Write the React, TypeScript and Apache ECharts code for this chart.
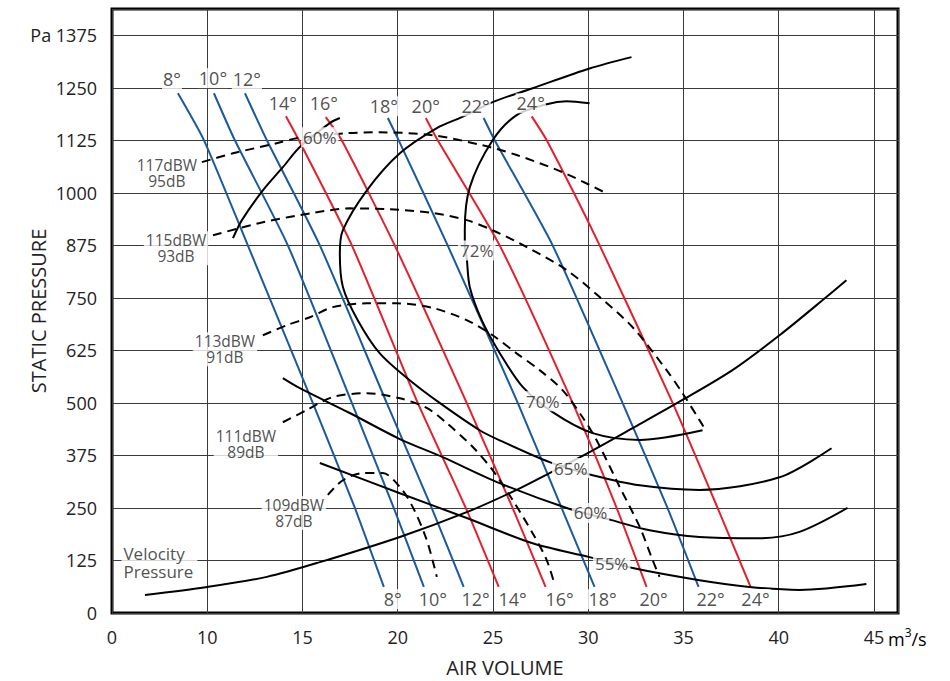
import { useEffect, useRef } from 'react';
import * as echarts from 'echarts';

// ---------- axes ----------
const X_MIN = 5; // first grid line, labelled "0"
const X_MAX = 46.26;
const X_STEP = 5;
const Y_MIN = 0;
const Y_MAX = 1437.5;
const Y_STEP = 125;
const X_LAST_LABEL = 45;
const Y_TOP_LABEL = 1375;

// ---------- blade angle lines ----------
const bladeAngles = [8, 10, 12, 14, 16, 18, 20, 22, 24];
const redAngles = [14, 16, 20, 24];
const blade8 = [[8.46, 1237], [9.83, 1125], [12.13, 875], [15.54, 500], [17.75, 250], [19.27, 62]];
const blade10 = [[10.35, 1237], [11.45, 1125], [14.23, 875], [17.59, 500], [19.79, 250], [21.37, 62]];
const blade12 = [[11.98, 1237], [13.13, 1125], [15.91, 875], [19.42, 500], [21.78, 250], [23.46, 62]];
const blade14 = [[14.13, 1182], [14.81, 1125], [17.59, 875], [21.05, 500], [23.57, 250], [25.3, 62]];
const blade16 = [[16.22, 1180], [17.06, 1125], [19.84, 875], [23.62, 500], [26.03, 250], [27.76, 62]];
const blade18 = [[19.48, 1178], [20.05, 1125], [22.62, 875], [26.3, 500], [28.6, 250], [30.33, 62]];
const blade20 = [[21.47, 1178], [22.1, 1125], [25.35, 875], [29.18, 500], [31.49, 250], [33.06, 62]];
const blade22 = [[24.51, 1178], [25.09, 1125], [28.13, 875], [31.8, 500], [34.16, 250], [35.79, 62]];
const blade24 = [[27.03, 1182], [27.82, 1125], [30.6, 875], [34.43, 500], [36.79, 250], [38.52, 62]];
const bladeCurves = [blade8, blade10, blade12, blade14, blade16, blade18, blade20, blade22, blade24];
const bladeTopLabelAt = [[8.15, 1270], [10.3, 1273], [12.08, 1270], [13.97, 1213], [16.12, 1213], [19.27, 1206], [21.47, 1206], [24.09, 1206], [26.98, 1213]];
const bladeBottomLabelX = [19.74, 21.84, 24.09, 26.03, 28.5, 30.75, 33.43, 36.42, 38.78];
const bladeBottomLabelY = 33;

// ---------- efficiency curves ----------
const eff60Upper = [[11.35, 892], [11.82, 935], [12.92, 1006], [13.97, 1061], [14.86, 1109], [16.43, 1166], [16.96, 1178]];
const eff60Lower = [[13.97, 559], [14.86, 535], [17.48, 476], [20.11, 414], [22.36, 371], [25.35, 309], [28.87, 250], [31.23, 221], [33.22, 197], [35.84, 181], [38.99, 178], [41.09, 193], [43.61, 250]];
const eff65 = [[32.27, 1323], [30.07, 1296], [27.08, 1249], [24.98, 1216], [23.36, 1180], [22.05, 1154], [20.11, 1094], [18.38, 1006], [17.12, 911], [16.96, 856], [17.12, 776], [17.9, 697], [19.06, 618], [20.63, 554], [22.2, 500], [24.3, 435], [25.35, 411], [27.97, 359], [30.23, 328], [32.7, 304], [35.84, 293], [40.04, 323], [42.77, 392]];
const eff72to70 = [[30.07, 1213], [28.87, 1218], [27.82, 1211], [26.24, 1185], [24.98, 1125], [23.78, 1013], [23.52, 911], [23.52, 878], [23.62, 845], [23.78, 776], [24.41, 697], [25.35, 619], [26.56, 538], [28.13, 478], [30.23, 428], [32.7, 412], [36.0, 435]];
const eff55 = [[15.91, 357], [20.11, 285], [23.62, 226], [27.08, 166], [30.07, 133], [32.33, 107], [35.84, 78], [38.46, 62], [41.09, 55], [44.6, 69]];
const velocityPressure = [[6.73, 43], [10.0, 62], [13.13, 86], [15.91, 121], [20.11, 181], [23.62, 240], [26.24, 293], [27.97, 333], [30.07, 383], [32.33, 440], [34.95, 507], [37.57, 578], [40.04, 661], [42.5, 752], [43.55, 792]];
const effLabelText = ['60%', '72%', '70%', '65%', '60%', '55%'];
const effLabelAt = [[15.91, 1132], [24.15, 863], [27.61, 504], [29.08, 345], [30.12, 238], [31.23, 117]];

// ---------- sound power curves ----------
const snd117 = [[9.72, 1073], [11.35, 1094], [13.65, 1118], [14.7, 1130], [17.33, 1142], [19.06, 1144], [21.84, 1137], [24.46, 1113], [26.24, 1090], [28.66, 1049], [30.86, 1001]];
const snd115 = [[10.3, 899], [12.92, 930], [15.54, 952], [17.48, 963], [19.58, 961], [21.84, 952], [23.62, 935], [24.98, 911], [26.77, 871], [28.87, 816], [30.6, 752], [32.33, 680], [34.11, 578], [34.95, 523], [35.84, 459], [36.16, 435]];
const snd113 = [[12.92, 661], [14.18, 685], [15.39, 704], [16.59, 728], [18.38, 737], [19.95, 737], [21.84, 726], [23.62, 697], [24.98, 661], [26.24, 618], [27.45, 578], [28.66, 530], [29.7, 466], [30.44, 411], [31.65, 300], [32.7, 205], [33.38, 126], [33.74, 86]];
const snd111 = [[13.97, 454], [15.23, 483], [16.59, 514], [18.38, 523], [20.11, 511], [21.52, 488], [22.57, 452], [23.94, 395], [24.98, 340], [26.03, 269], [27.08, 190], [27.82, 126], [28.24, 67]];
const snd109 = [[16.33, 281], [17.12, 316], [18.17, 333], [19.21, 333], [20.11, 300], [20.79, 252], [21.52, 174], [22.05, 86]];
const soundLabelText = ['117dBW\n95dB', '115dBW\n93dB', '113dBW\n91dB', '111dBW\n89dB', '109dBW\n87dB'];
const soundLabelAt = [[7.88, 1047], [8.36, 868], [10.93, 628], [12.03, 402], [14.55, 238]];
const velocityLabelText = 'Velocity\nPressure';
const velocityLabelAt = [5.47, 121];

// ---------- styles ----------
const FONT = "'Open Sans', 'Noto Sans', sans-serif";
const TEXT = '#222';
const BLUE = '#1a5a9c';
const RED = '#e3202b';
const BLACK = '#000';

function lineSeries(data: number[][], color: string, dashed = false, smooth = 0.3) {
  return {
    type: 'line',
    data,
    symbol: 'none',
    showSymbol: false,
    smooth,
    silent: true,
    z: 3,
    lineStyle: { color, width: 2, type: dashed ? [9, 6] : 'solid' },
    emphasis: { disabled: true },
  };
}

function labelSeries(items: { name: string; value: number[] }[], fontSize: number, lineHeight: number, padding: number[], position = 'inside', align = 'center') {
  return {
    type: 'scatter',
    data: items,
    symbol: 'circle',
    symbolSize: 1,
    silent: true,
    z: 10,
    itemStyle: { color: 'rgba(0,0,0,0)' },
    emphasis: { disabled: true },
    label: {
      show: true,
      position,
      distance: 0,
      formatter: '{b}',
      color: TEXT,
      fontFamily: FONT,
      fontSize,
      lineHeight,
      align,
      backgroundColor: '#fff',
      padding,
    },
  };
}

export default function App() {
  const ref = useRef<HTMLDivElement>(null);
  useEffect(() => {
    if (!ref.current) return;
    const chart = echarts.init(ref.current, undefined, { renderer: 'svg' });

    const series: any[] = [];
    bladeCurves.forEach((c, i) => {
      series.push(lineSeries(c, redAngles.includes(bladeAngles[i]) ? RED : BLUE, false, 0.2));
    });
    [eff60Upper, eff60Lower, eff65, eff72to70, eff55, velocityPressure].forEach((c) => series.push(lineSeries(c, BLACK)));
    [snd117, snd115, snd113, snd111, snd109].forEach((c) => series.push(lineSeries(c, BLACK, true)));

    series.push(labelSeries(bladeAngles.map((a, i) => ({ name: a + '°', value: bladeTopLabelAt[i] })), 18, 18, [1, 1]));
    series.push(labelSeries(bladeAngles.map((a, i) => ({ name: a + '°', value: [bladeBottomLabelX[i], bladeBottomLabelY] })), 18, 18, [1, 1]));
    series.push(labelSeries(effLabelText.map((t, i) => ({ name: t, value: effLabelAt[i] })), 17, 18, [1, 2]));
    series.push(labelSeries(soundLabelText.map((t, i) => ({ name: t, value: soundLabelAt[i] })), 15.5, 16, [1, 2]));
    series.push(labelSeries([{ name: velocityLabelText, value: velocityLabelAt }], 17, 18, [1, 4, 1, 2], 'right', 'left'));

    chart.setOption({
      animation: false,
      backgroundColor: '#fff',
      grid: {
        left: 112, right: 52, top: 9, bottom: 68,
        containLabel: false, outerBoundsMode: 'none',
        show: true, borderColor: '#000', borderWidth: 3, backgroundColor: 'transparent',
      },
      xAxis: {
        type: 'value',
        min: X_MIN,
        max: X_MAX,
        interval: X_STEP,
        name: 'AIR VOLUME',
        nameLocation: 'middle',
        nameGap: 44,
        nameMoveOverlap: false,
        nameTextStyle: { fontFamily: FONT, fontSize: 20, color: TEXT },
        axisLine: { show: false },
        axisTick: { show: false },
        axisLabel: {
          margin: 15,
          fontFamily: FONT,
          fontSize: 18,
          color: TEXT,
          formatter: (v: number) => {
            if (Math.abs(v - X_MIN) < 1e-6) return '0';
            if (v % X_STEP !== 0 || v > X_LAST_LABEL) return '';
            return String(v);
          },
        },
        splitLine: { show: true, lineStyle: { color: '#3a3a3a', width: 1 } },
      },
      yAxis: {
        type: 'value',
        min: Y_MIN,
        max: Y_MAX,
        interval: Y_STEP,
        name: 'STATIC PRESSURE',
        nameLocation: 'middle',
        nameGap: 64,
        nameMoveOverlap: false,
        nameTextStyle: { fontFamily: FONT, fontSize: 20, color: TEXT },
        axisLine: { show: false },
        axisTick: { show: false },
        axisLabel: {
          margin: 15,
          fontFamily: FONT,
          fontSize: 18,
          color: TEXT,
          formatter: (v: number) => {
            if (v === Y_TOP_LABEL) return 'Pa ' + v;
            if (v % Y_STEP !== 0) return '';
            return String(v);
          },
        },
        splitLine: { show: true, lineStyle: { color: '#3a3a3a', width: 1 } },
      },
      graphic: [
        {
          type: 'text',
          left: 888,
          top: 626,
          silent: true,
          style: {
            text: '{a|m}{b|3}{a|/s}',
            rich: {
              a: { fontFamily: FONT, fontSize: 18, color: TEXT, lineHeight: 22, verticalAlign: 'bottom' },
              b: { fontFamily: FONT, fontSize: 12, color: TEXT, lineHeight: 22, verticalAlign: 'top' },
            },
          },
        },
      ],
      series,
    });
    return () => chart.dispose();
  }, []);
  return <div ref={ref} style={{ position: 'absolute', left: 0, top: 0, width: 950, height: 681 }} />;
}
